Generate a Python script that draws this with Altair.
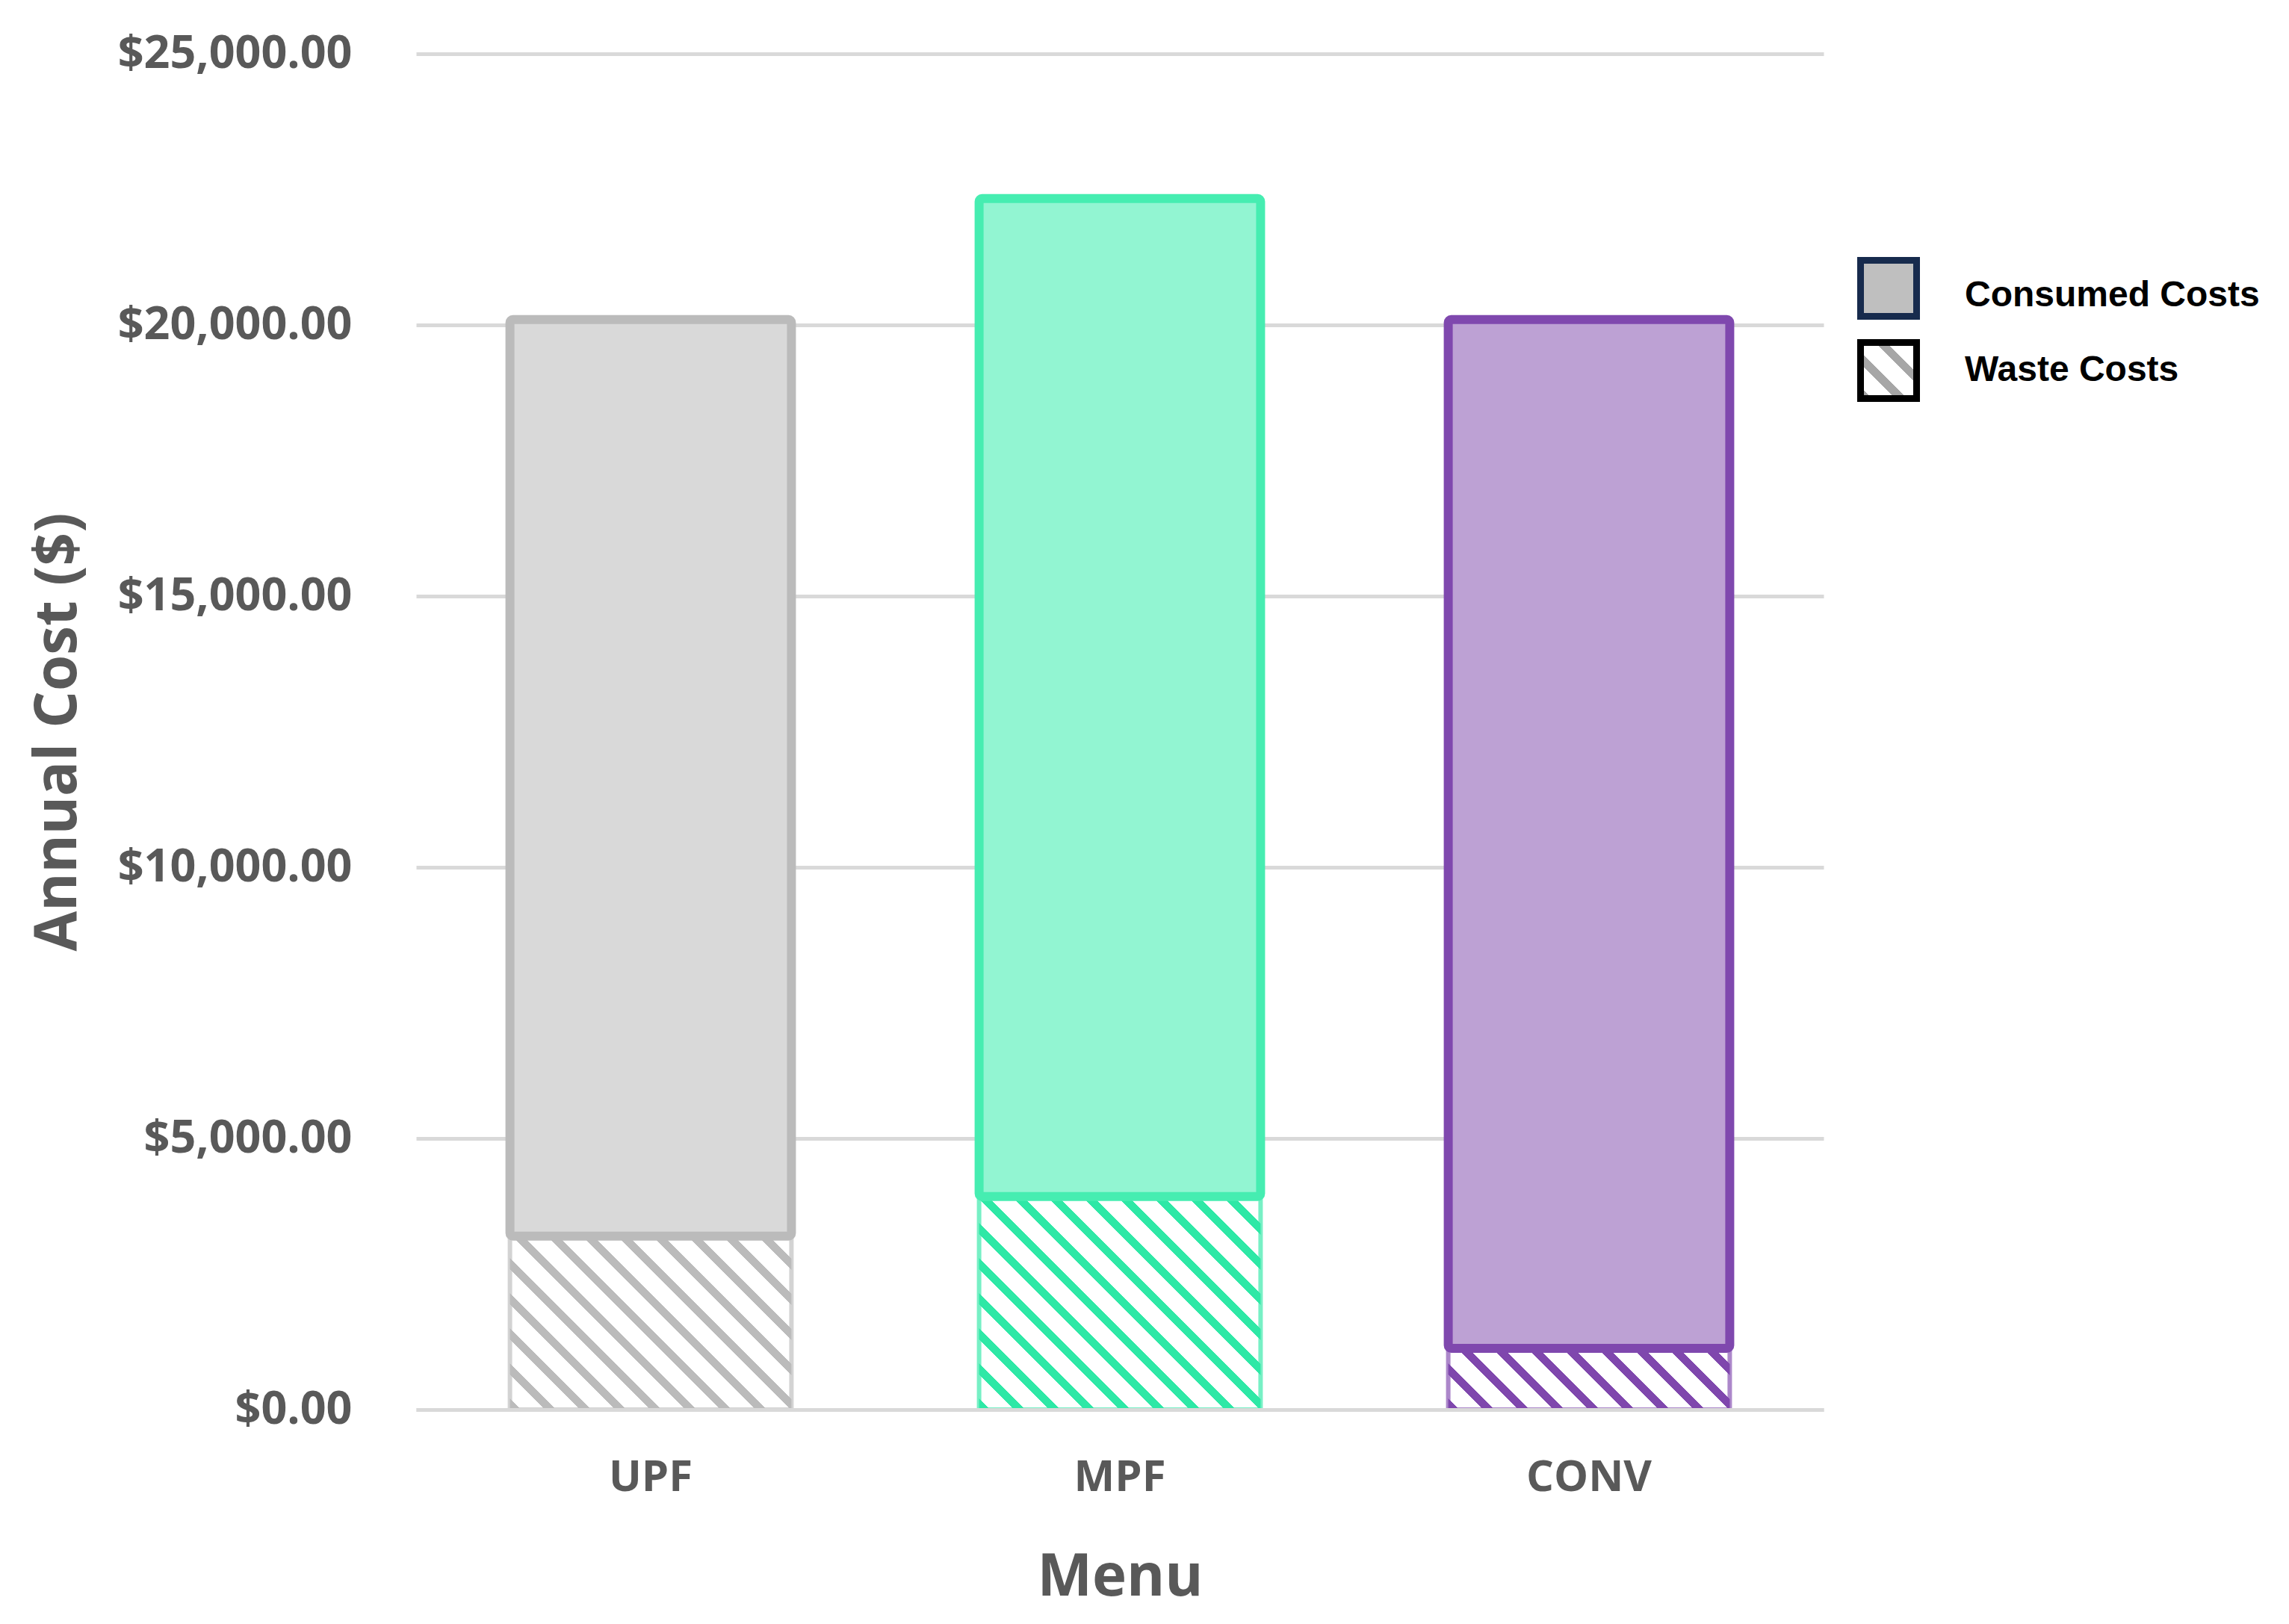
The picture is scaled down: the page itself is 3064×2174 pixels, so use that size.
import altair as alt
import pandas as pd

# ---- data ----
menus = ["UPF", "MPF", "CONV"]
consumed = [16900, 18400, 18970]
waste = [3200, 3930, 1130]
y_ticks = [0, 5000, 10000, 15000, 20000, 25000]
legend_labels = ["Consumed Costs", "Waste Costs"]

# ---- styling ----
fill_colors = ["#D9D9D9", "#92F5D2", "#BDA1D4"]
stroke_colors = ["#BBBBBB", "#46EDB1", "#7F48AE"]
stripe_colors = ["#BBBBBB", "#2EE8A6", "#7F47AD"]

W_PLOT, H_PLOT, Y_MAX = 1884, 1815, 25000
P_INNER, P_OUTER = 0.4, 0.2
STEP = W_PLOT / (len(menus) - P_INNER + 2 * P_OUTER)
BAR_W = STEP * (1 - P_INNER)
GREY = "#595959"


def hatch(color, w, h, period=47.0, duty=0.32, bg="#FFFFFF"):
    """Diagonal '\\' stripes built from a hard-stop linear gradient (bbox units)."""
    c = (w + h) / (w * w + h * h)
    p = period / (w + h)
    stops = []
    k = 0
    while k * p < 1:
        a = k * p
        b = min(1.0, a + duty * p)
        e = min(1.0, (k + 1) * p)
        stops += [(a, color), (b, color), (b, bg), (e, bg)]
        k += 1
    return {
        "gradient": "linear",
        "x1": 0, "y1": 1, "x2": c * w, "y2": 1 - c * h,
        "stops": [{"offset": round(o, 5), "color": col} for o, col in stops],
    }


df = pd.DataFrame({"Menu": menus, "Consumed": consumed, "Waste": waste})

x_enc = alt.X(
    "Menu:N", sort=menus,
    scale=alt.Scale(domain=menus, paddingInner=P_INNER, paddingOuter=P_OUTER),
    axis=alt.Axis(
        title="Menu", labelAngle=0, ticks=False, domain=True,
        domainColor="#D9D9D9", domainWidth=5, zindex=1,
        labelFont="Open Sans", labelFontSize=58, labelFontWeight="bold",
        labelColor=GREY, labelPadding=62,
        titleFont="Open Sans", titleFontSize=78, titleFontWeight="bold",
        titleColor=GREY, titlePadding=66,
    ),
)
y_axis = alt.Axis(
    title="Annual Cost ($)", format="$,.2f", values=y_ticks,
    grid=True, gridColor="#D9D9D9", gridWidth=5, domain=False, ticks=False,
    labelFont="Open Sans", labelFontSize=61, labelFontWeight="bold",
    labelColor=GREY, labelPadding=86, labelLimit=0,
    titleFont="Open Sans", titleFontSize=78, titleFontWeight="bold",
    titleColor=GREY, titleAngle=270, titleBaseline="middle", titleAlign="center",
    titleX=-479, titleY=H_PLOT / 2,
)
y_scale = alt.Scale(domain=[0, Y_MAX], nice=False)

base = alt.Chart(df).encode(x=x_enc)

layers = []
for i, m in enumerate(menus):
    h = waste[i] / Y_MAX * H_PLOT
    layers.append(
        base.transform_filter(alt.datum.Menu == m)
        .mark_bar(fill=hatch(stripe_colors[i], BAR_W, h), stroke=stripe_colors[i],
                  strokeOpacity=0.65, strokeWidth=6)
        .encode(y=alt.Y("Waste:Q", scale=y_scale, axis=y_axis, stack=None))
    )

layers.append(
    base.transform_calculate(Total="datum.Waste + datum.Consumed")
    .mark_bar(strokeWidth=12, cornerRadius=4, fillOpacity=1)
    .encode(
        y=alt.Y("Waste:Q", scale=y_scale, axis=y_axis, stack=None),
        y2="Total:Q",
        fill=alt.Fill("Menu:N", scale=alt.Scale(domain=menus, range=fill_colors), legend=None),
        stroke=alt.Stroke("Menu:N", scale=alt.Scale(domain=menus, range=stroke_colors), legend=None),
    )
)

# ---- manual legend (right of plot) ----
SQ = 75
leg_x_sym, leg_x_txt = 1971, 2073
leg_y = [314, 424]
txt_dy = [10, 0]
sym_fills = ["#BFBFBF", hatch("#A6A6A6", SQ, SQ)]
sym_strokes = ["#172B4D", "#000000"]
for j, lab in enumerate(legend_labels):
    ldata = alt.Data(values=[{"label": lab}])
    layers.append(
        alt.Chart(ldata).mark_square(
            size=SQ * SQ, fill=sym_fills[j], stroke=sym_strokes[j],
            strokeWidth=9, opacity=1, fillOpacity=1,
        ).encode(x=alt.value(leg_x_sym), y=alt.value(leg_y[j]))
    )
    layers.append(
        alt.Chart(ldata).mark_text(
            align="left", baseline="middle", font="Liberation Sans",
            fontSize=48, fontWeight="bold", color="#000000",
        ).encode(x=alt.value(leg_x_txt), y=alt.value(leg_y[j] + txt_dy[j]), text="label:N")
    )

chart = (
    alt.layer(*layers)
    .properties(
        width=W_PLOT, height=H_PLOT,
        autosize=alt.AutoSizeParams(type="none"),
        padding={"left": 549, "top": 64, "right": 610, "bottom": 280},
        background="white",
    )
    .configure_view(stroke=None)
)

chart.save("out.html", embed_options={"renderer": "svg", "actions": False})
